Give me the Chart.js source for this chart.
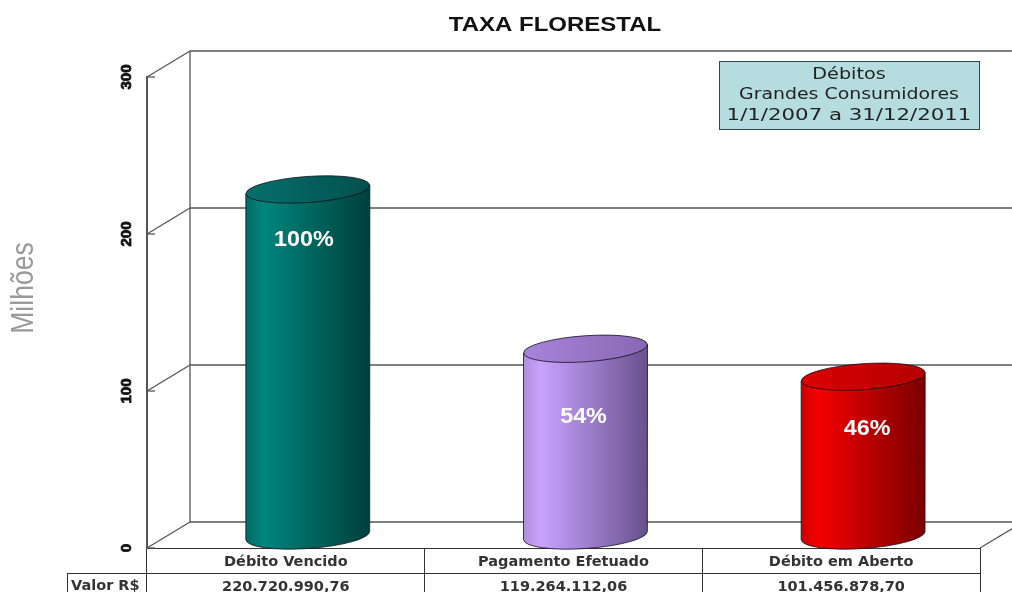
<!DOCTYPE html>
<html>
<head>
<meta charset="utf-8">
<title>Taxa Florestal</title>
<script src="https://cdn.jsdelivr.net/npm/chart.js@4"></script>
<style>
  html, body { margin: 0; padding: 0; background: #fff; overflow: hidden; }
  canvas { display: block; }
</style>
</head>
<body>
<canvas id="taxaChart" width="1012" height="592"></canvas>
<script>
const categorias = ["Débito Vencido", "Pagamento Efetuado", "Débito em Aberto"];
const valores = [220.72099076, 119.26411206, 101.4568787]; // milhões de R$
const valoresTexto = ["220.720.990,76", "119.264.112,06", "101.456.878,70"];
const percentuais = ["100%", "54%", "46%"];
const yTicks = [0, 100, 200, 300];
const caixaTexto = ["Débitos", "Grandes Consumidores", "1/1/2007 a 31/12/2011"];
const caixaEscala = [1.2, 1.18, 1.33];

// cores do cilindro: borda esquerda, brilho, borda direita, tampa (esq, dir)
const coresCilindro = [
  ["#006c66", "#00857b", "#003f3c", "#05706c", "#04504e"],
  ["#b08ddc", "#c9a2ff", "#66528c", "#a884da", "#8868b4"],
  ["#cc0000", "#f40000", "#7a0000", "#dc0000", "#b40000"]
];
const ajusteRotulo = [[-4, 50], [-2, 68], [4, 52]];

const DX = 43, DY = 26; // profundidade do grafico 3D

function line(ctx, x1, y1, x2, y2) {
  ctx.beginPath();
  ctx.moveTo(x1, y1);
  ctx.lineTo(x2, y2);
  ctx.stroke();
}

// texto com esticamento horizontal
function texto(ctx, str, x, y, escala) {
  ctx.save();
  ctx.translate(x, y);
  ctx.scale(escala, 1);
  ctx.fillText(str, 0, 0);
  ctx.restore();
}

const paredes = {
  id: "paredes",
  beforeDatasetsDraw(chart) {
    const { ctx, chartArea: a, scales: { y } } = chart;
    ctx.save();
    ctx.strokeStyle = "#555";
    ctx.lineWidth = 1.3;
    line(ctx, a.left + DX, y.getPixelForValue(300) - DY, a.left + DX, y.getPixelForValue(0) - DY);
    yTicks.forEach(t => {
      const py = y.getPixelForValue(t);
      line(ctx, a.left, py, a.left + DX, py - DY);
      line(ctx, a.left + DX, py - DY, 1012, py - DY);
      line(ctx, a.left, py, a.left + 8, py);
    });
    line(ctx, a.right, a.bottom, a.right + DX, a.bottom - DY);
    ctx.restore();
  }
};

const cilindros = {
  id: "cilindros",
  afterDatasetsDraw(chart) {
    const { ctx } = chart;
    const meta = chart.getDatasetMeta(0);
    meta.data.forEach((bar, i) => {
      const cx = bar.x + DX / 2 + 0.5;
      const rx = bar.width / 2;
      const ry = 13;
      const topo = bar.y - DY / 2 + 1;
      const base = bar.base - DY / 2 + 1;
      const incl = -0.07;
      const dy = Math.sin(incl) * rx;
      const cores = coresCilindro[i];

      const grad = ctx.createLinearGradient(cx - rx, 0, cx + rx, 0);
      grad.addColorStop(0, cores[0]);
      grad.addColorStop(0.14, cores[1]);
      grad.addColorStop(1, cores[2]);

      ctx.save();
      ctx.strokeStyle = "rgba(20,15,30,0.8)";
      ctx.lineWidth = 1;
      ctx.fillStyle = grad;
      ctx.beginPath();
      ctx.moveTo(cx - rx, topo - dy);
      ctx.lineTo(cx - rx, base - dy);
      ctx.ellipse(cx, base, rx, ry, incl, Math.PI, 0, true);
      ctx.lineTo(cx + rx, topo + dy);
      ctx.closePath();
      ctx.fill();
      ctx.stroke();

      const tampa = ctx.createLinearGradient(cx - rx, 0, cx + rx, 0);
      tampa.addColorStop(0, cores[3]);
      tampa.addColorStop(1, cores[4]);
      ctx.fillStyle = tampa;
      ctx.beginPath();
      ctx.ellipse(cx, topo, rx, ry, incl, 0, Math.PI * 2);
      ctx.fill();
      ctx.stroke();

      ctx.fillStyle = "#fff";
      ctx.font = "bold 22px 'Liberation Sans'";
      ctx.textAlign = "center";
      ctx.textBaseline = "middle";
      texto(ctx, percentuais[i], cx + ajusteRotulo[i][0], topo + ajusteRotulo[i][1], 1.06);
      ctx.restore();
    });
  }
};

const anotacoes = {
  id: "anotacoes",
  afterDraw(chart) {
    const { ctx, chartArea: a, scales: { x } } = chart;
    ctx.save();

    // titulo
    ctx.fillStyle = "#111";
    ctx.font = "bold 19.5px 'Liberation Sans'";
    ctx.textAlign = "center";
    ctx.textBaseline = "middle";
    texto(ctx, "TAXA FLORESTAL", 555, 26, 1.23);

    // segunda linha da tabela
    ctx.strokeStyle = "#333";
    ctx.lineWidth = 1;
    line(ctx, 67, a.bottom + 25.5, a.right, a.bottom + 25.5);
    line(ctx, 67.5, a.bottom + 25, 67.5, 592);
    ctx.fillStyle = "#333";
    ctx.font = x.options.ticks.font.weight + " " + x.options.ticks.font.size + "px 'DejaVu Sans'";
    ctx.textAlign = "left";
    ctx.fillText("Valor R$", 71, a.bottom + 38);

    // titulo do eixo
    ctx.save();
    ctx.translate(33, 288);
    ctx.rotate(-Math.PI / 2);
    ctx.scale(0.83, 1);
    ctx.fillStyle = "#999";
    ctx.font = "32px 'Liberation Sans'";
    ctx.textAlign = "center";
    ctx.textBaseline = "alphabetic";
    ctx.fillText("Milhões", 0, 0);
    ctx.restore();

    // caixa de periodo
    ctx.fillStyle = "#b5dde0";
    ctx.strokeStyle = "#2a4a4a";
    ctx.fillRect(719.5, 61.5, 260, 68);
    ctx.strokeRect(719.5, 61.5, 260, 68);
    ctx.fillStyle = "#222";
    ctx.font = "16px 'DejaVu Sans'";
    ctx.textAlign = "center";
    caixaTexto.forEach((t, i) => texto(ctx, t, 849, 74.5 + i * 20.5, caixaEscala[i]));
    ctx.restore();
  }
};

new Chart(document.getElementById("taxaChart"), {
  type: "bar",
  data: {
    labels: categorias.map((c, i) => [c, valoresTexto[i]]),
    datasets: [{
      data: valores,
      backgroundColor: "transparent",
      borderWidth: 0,
      barThickness: 124
    }]
  },
  plugins: [paredes, cilindros, anotacoes],
  options: {
    responsive: false,
    animation: false,
    layout: { padding: { top: 77, right: 32 } },
    plugins: {
      legend: { display: false },
      tooltip: { enabled: false }
    },
    scales: {
      x: {
        afterFit(scale) { scale.height = 44; },
        border: { color: "#333", width: 1 },
        grid: { offset: true, drawOnChartArea: false, tickLength: 44, color: "#333" },
        ticks: {
          autoSkip: false,
          maxRotation: 0,
          padding: -42,
          color: "#333",
          font: { family: "'DejaVu Sans'", size: 14.5, weight: "bold", lineHeight: "25px" }
        }
      },
      y: {
        min: 0,
        max: 300,
        afterFit(scale) { scale.width = 147; },
        border: { color: "#555", width: 2 },
        grid: { drawOnChartArea: false, drawTicks: false },
        ticks: {
          stepSize: 100,
          minRotation: 90,
          maxRotation: 90,
          crossAlign: "center",
          padding: 8,
          color: "#111",
          textStrokeColor: "#111",
          textStrokeWidth: 0.8,
          font: { family: "'Liberation Sans'", size: 15, weight: "bold" }
        }
      }
    }
  }
});
</script>
</body>
</html>
